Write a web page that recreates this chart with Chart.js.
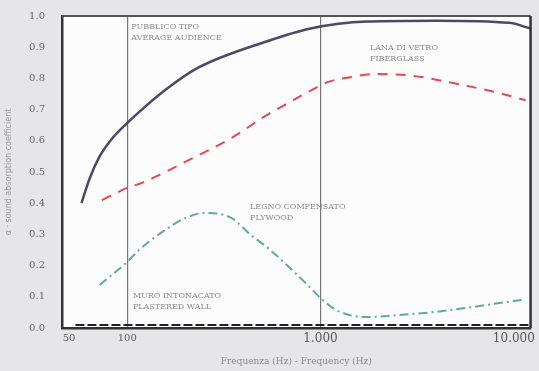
<!DOCTYPE html>
<html>
<head>
<meta charset="utf-8">
<script src="https://cdn.jsdelivr.net/npm/chart.js@4/dist/chart.umd.min.js"></script>
<style>
  html, body { margin: 0; padding: 0; background: #e6e6e9; }
  #wrap { width: 539px; height: 371px; }
</style>
</head>
<body>
<div id="wrap"><canvas id="chart" width="539" height="371"></canvas></div>
<script>
// frequenze (Hz) e coefficienti di assorbimento
var pubblicoF = [58, 64, 72, 83, 100, 119, 159, 234, 535, 889, 1740, 4000, 9460, 12200];
var pubblicoA = [0.40, 0.48, 0.55, 0.605, 0.657, 0.70, 0.765, 0.835, 0.92, 0.96, 0.982, 0.985, 0.978, 0.96];

var lanaF = [74, 100, 119, 208, 346, 535, 676, 853, 1087, 1426, 1960, 3030, 4840, 8400, 11500];
var lanaA = [0.41, 0.449, 0.465, 0.538, 0.609, 0.685, 0.72, 0.755, 0.788, 0.804, 0.814, 0.808, 0.785, 0.753, 0.73];

var legnoF = [72, 100, 115, 152, 201, 254, 345, 436, 535, 654, 889, 1000, 1237, 1740, 2560, 3830, 5640, 8400, 11000];
var legnoA = [0.138, 0.212, 0.25, 0.308, 0.353, 0.369, 0.353, 0.298, 0.256, 0.208, 0.128, 0.096, 0.054, 0.035, 0.042, 0.051, 0.064, 0.08, 0.09];

var muroF = [54, 12200];
var muroA = [0.01, 0.01];

var xTicks = [50, 100, 1000, 10000];
var xTickLabels = ['50', '100', '1.000', '10.000'];

// etichette delle curve: testo e punto di ancoraggio (Hz, alfa)
var notes = [
  { lines: ['PUBBLICO TIPO', 'AVERAGE AUDIENCE'], f: 105, a: [0.965, 0.93] },
  { lines: ['LANA DI VETRO', 'FIBERGLASS'], f: 1800, a: [0.897, 0.862] },
  { lines: ['LEGNO COMPENSATO', 'PLYWOOD'], f: 432, a: [0.388, 0.353] },
  { lines: ['MURO INTONACATO', 'PLASTERED WALL'], f: 107, a: [0.103, 0.067] }
];

function pts(fs, as){
  var out = [];
  for(var i=0;i<fs.length;i++){
    out.push({x: fs[i], y: as[i]});
  }
  return out;
}

var sfondo = { // fondo bianco dell'area del grafico + cornice
  id: 'sfondo',
  beforeDraw: function(chart){
    var c = chart.ctx, a = chart.chartArea;
    c.save();
    c.fillStyle = '#e6e6e9';
    c.fillRect(0, 0, chart.width, chart.height);
    c.fillStyle = '#fcfcfc';
    c.fillRect(a.left, a.top, a.right - a.left, a.bottom - a.top);
    c.restore();
  },
  afterDatasetsDraw: function(chart){
    var c = chart.ctx, a = chart.chartArea;
    var x = chart.scales.x, y = chart.scales.y;
    c.save();
    c.strokeStyle = '#555';
    c.lineWidth = 2;
    c.beginPath();
    c.moveTo(a.left, y.getPixelForValue(1));
    c.lineTo(a.right, y.getPixelForValue(1));
    c.stroke();
    c.strokeStyle = '#333';
    c.lineWidth = 2.5;
    c.beginPath();
    c.moveTo(a.right, a.top);
    c.lineTo(a.right, a.bottom);
    c.stroke();
    c.fillStyle = '#8a8a8a';
    c.font = '8px "DejaVu Serif"';
    c.textBaseline = 'middle';
    notes.forEach(function(n){
      var px = x.getPixelForValue(n.f);
      n.lines.forEach(function(t, i){
        c.fillText(t, px, y.getPixelForValue(n.a[i]));
      });
    });
    c.restore();
  }
};

new Chart(document.getElementById('chart'), {
  type: 'scatter',
  data: {
    datasets: [
      {
        data: pts(pubblicoF, pubblicoA),
        showLine: true,
        borderColor: '#4b4868',
        borderWidth: 2.5,
        pointRadius: 0,
        cubicInterpolationMode: 'monotone'
      },
      {
        data: pts(lanaF, lanaA),
        showLine: true,
        borderColor: '#e8484f',
        borderWidth: 2,
        borderDash: [10, 8],
        pointRadius: 0,
        cubicInterpolationMode: 'monotone'
      },
      {
        data: pts(legnoF, legnoA),
        showLine: true,
        borderColor: '#5ea9a0',
        borderWidth: 2,
        borderDash: [9, 4, 2, 4],
        pointRadius: 0,
        cubicInterpolationMode: 'monotone'
      },
      {
        data: pts(muroF, muroA),
        showLine: true,
        borderColor: '#222',
        borderWidth: 2,
        borderDash: [9, 3],
        pointRadius: 0,
        tension: 0
      }
    ]
  },
  options: {
    responsive: false,
    animation: false,
    layout: { padding: { top: 16, right: 4, left: 0, bottom: 0 } },
    plugins: {
      legend: { display: false },
      tooltip: { enabled: false }
    },
    scales: {
      x: {
        type: 'logarithmic',
        min: 46,
        max: 12200,
        afterBuildTicks: function(scale){
          scale.ticks = xTicks.map(function(v){ return {value: v}; });
        },
        afterFit: function(scale){ scale.height = 43; },
        ticks: {
          autoSkip: false,
          maxRotation: 0,
          padding: 4,
          color: '#5a5a5a',
          font: function(ctx){
            var big = ctx.tick && ctx.tick.value >= 1000;
            return { family: '"DejaVu Serif"', size: big ? 12 : 10 };
          },
          callback: function(v){
            var i = xTicks.indexOf(v);
            return i >= 0 ? xTickLabels[i] : '';
          }
        },
        grid: {
          drawTicks: false,
          lineWidth: 1.2,
          color: function(ctx){
            var v = ctx.tick ? ctx.tick.value : 0;
            return (v === 100 || v === 1000) ? '#777' : 'rgba(0,0,0,0)';
          }
        },
        border: { display: true, color: '#333', width: 2.5 },
        title: {
          display: true,
          text: 'Frequenza (Hz) - Frequency (Hz)',
          color: '#8a8a8a',
          font: { family: '"DejaVu Serif"', size: 9 },
          padding: { top: 4 }
        }
      },
      y: {
        min: 0,
        max: 1,
        afterFit: function(scale){ scale.width = 62; },
        ticks: {
          stepSize: 0.1,
          padding: 9,
          color: '#666',
          font: { family: '"DejaVu Serif"', size: 10 },
          callback: function(v){ return v.toFixed(1); }
        },
        grid: { display: false },
        border: { display: true, color: '#333', width: 2.5 },
        title: {
          display: true,
          text: 'α · sound absorption coefficient',
          color: '#9a9a9a',
          font: { family: '"DejaVu Sans"', size: 8 },
          padding: { bottom: 2 }
        }
      }
    }
  },
  plugins: [sfondo]
});
</script>
</body>
</html>
